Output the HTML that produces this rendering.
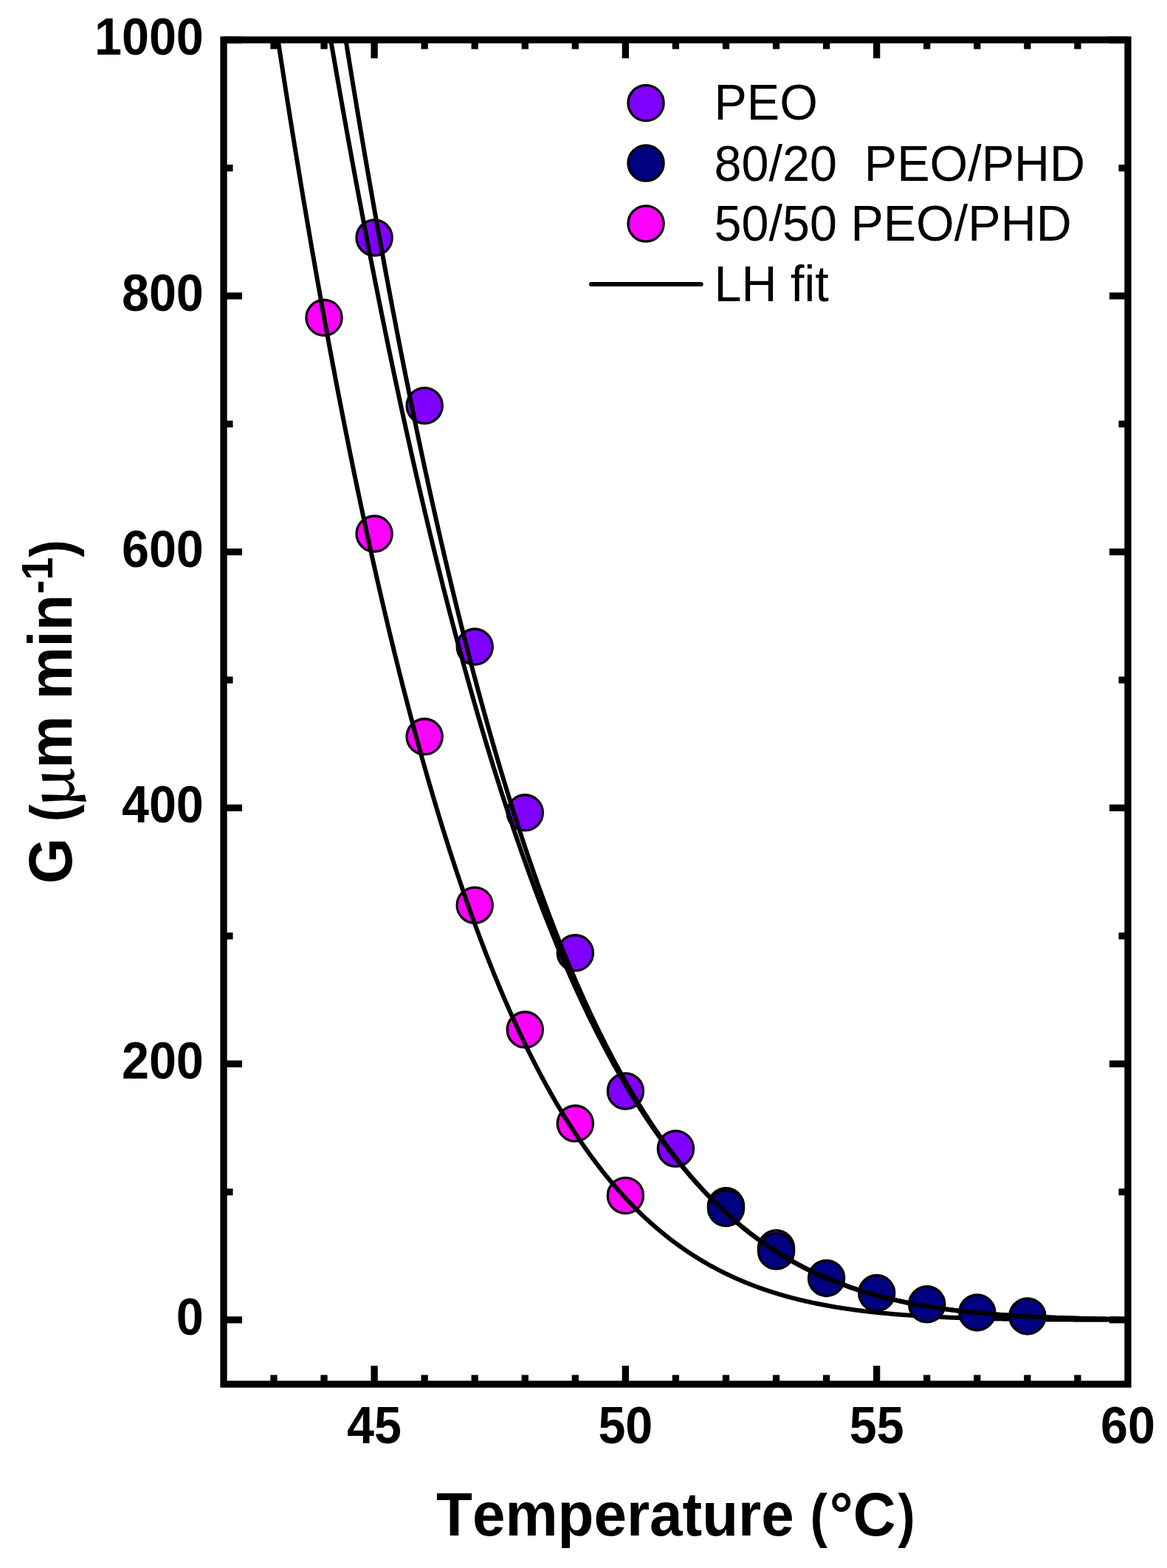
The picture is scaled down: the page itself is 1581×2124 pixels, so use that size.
<!DOCTYPE html><html><head><meta charset="utf-8"><style>html,body{margin:0;padding:0;background:#fff;overflow:hidden;}svg{display:block;}text{font-family:"Liberation Sans",Arial,sans-serif;font-kerning:none;font-variant-ligatures:none;}</style></head><body>
<svg width="1581" height="2124" viewBox="0 0 1581 2124">
<rect width="1581" height="2124" fill="#fff"/>
<defs><clipPath id="pc"><rect x="303" y="54" width="1225" height="1821"/></clipPath></defs>
<g><circle cx="439.02" cy="430.35" r="24.1" fill="#FF00FF" stroke="#000" stroke-width="3.3"/><circle cx="507.08" cy="723.10" r="24.1" fill="#FF00FF" stroke="#000" stroke-width="3.3"/><circle cx="575.14" cy="997.85" r="24.1" fill="#FF00FF" stroke="#000" stroke-width="3.3"/><circle cx="643.20" cy="1226.20" r="24.1" fill="#FF00FF" stroke="#000" stroke-width="3.3"/><circle cx="711.26" cy="1394.85" r="24.1" fill="#FF00FF" stroke="#000" stroke-width="3.3"/><circle cx="779.32" cy="1521.85" r="24.1" fill="#FF00FF" stroke="#000" stroke-width="3.3"/><circle cx="847.38" cy="1619.50" r="24.1" fill="#FF00FF" stroke="#000" stroke-width="3.3"/></g>
<path clip-path="url(#pc)" d="M371.77,22.18 L373.11,31.05 L374.45,39.90 L375.79,48.71 L377.13,57.50 L378.47,66.25 L379.81,74.97 L381.15,83.65 L382.49,92.31 L383.83,100.93 L385.17,109.53 L386.51,118.09 L387.85,126.62 L389.19,135.12 L390.53,143.59 L391.87,152.03 L393.21,160.43 L394.55,168.81 L395.89,177.16 L397.23,185.47 L398.57,193.75 L399.91,202.01 L401.25,210.23 L402.59,218.42 L403.93,226.58 L405.27,234.71 L406.61,242.81 L407.95,250.88 L409.29,258.92 L410.63,266.93 L411.97,274.91 L413.31,282.85 L414.65,290.77 L415.99,298.66 L417.33,306.52 L418.67,314.35 L420.01,322.15 L421.35,329.92 L422.69,337.65 L424.03,345.36 L425.37,353.04 L426.71,360.69 L428.05,368.31 L429.39,375.90 L430.73,383.47 L432.07,391.00 L433.41,398.50 L434.75,405.97 L436.09,413.42 L437.43,420.83 L438.77,428.22 L440.11,435.58 L441.45,442.90 L442.79,450.20 L444.13,457.47 L445.47,464.71 L446.81,471.93 L448.15,479.11 L449.49,486.27 L450.83,493.39 L452.17,500.49 L453.51,507.56 L454.85,514.60 L456.19,521.61 L457.53,528.60 L458.87,535.56 L460.21,542.48 L461.55,549.38 L462.89,556.26 L464.23,563.10 L465.57,569.92 L466.91,576.71 L468.25,583.47 L469.59,590.20 L470.93,596.91 L472.27,603.58 L473.61,610.23 L474.95,616.86 L476.29,623.45 L477.63,630.02 L478.97,636.56 L480.31,643.07 L481.65,649.56 L482.99,656.02 L484.33,662.45 L485.67,668.86 L487.01,675.23 L488.35,681.59 L489.69,687.91 L491.03,694.21 L492.37,700.48 L493.71,706.72 L495.05,712.94 L496.39,719.13 L497.73,725.30 L499.07,731.44 L500.41,737.55 L501.75,743.63 L503.09,749.69 L504.43,755.73 L505.77,761.73 L507.11,767.72 L508.45,773.67 L509.79,779.60 L511.13,785.51 L512.47,791.38 L513.81,797.24 L515.15,803.06 L516.49,808.86 L517.83,814.64 L519.17,820.39 L520.51,826.12 L521.85,831.82 L523.19,837.49 L524.53,843.14 L525.87,848.76 L527.21,854.36 L528.55,859.94 L529.89,865.49 L531.23,871.01 L532.57,876.51 L533.91,881.98 L535.25,887.44 L536.59,892.86 L537.93,898.26 L539.27,903.64 L540.61,908.99 L541.95,914.32 L543.29,919.62 L544.63,924.90 L545.97,930.16 L547.31,935.39 L548.65,940.59 L549.99,945.78 L551.33,950.94 L552.67,956.07 L554.01,961.18 L555.35,966.27 L556.69,971.34 L558.03,976.38 L559.37,981.39 L560.71,986.39 L562.05,991.36 L563.39,996.31 L564.73,1001.23 L566.07,1006.13 L567.41,1011.01 L568.75,1015.86 L570.09,1020.69 L571.43,1025.50 L572.77,1030.29 L574.11,1035.05 L575.45,1039.79 L576.79,1044.51 L578.13,1049.20 L579.47,1053.88 L580.81,1058.53 L582.15,1063.16 L583.49,1067.76 L584.83,1072.34 L586.17,1076.90 L587.51,1081.44 L588.85,1085.96 L590.19,1090.45 L591.53,1094.93 L592.87,1099.38 L594.21,1103.81 L595.55,1108.21 L596.89,1112.60 L598.23,1116.96 L599.57,1121.31 L600.91,1125.63 L602.25,1129.93 L603.59,1134.21 L604.93,1138.46 L606.27,1142.70 L607.61,1146.91 L608.95,1151.11 L610.29,1155.28 L611.63,1159.43 L612.97,1163.56 L614.31,1167.67 L615.65,1171.76 L616.99,1175.83 L618.33,1179.88 L619.67,1183.91 L621.01,1187.91 L622.35,1191.90 L623.69,1195.86 L625.03,1199.81 L626.37,1203.74 L627.71,1207.64 L629.05,1211.53 L630.39,1215.39 L631.73,1219.24 L633.07,1223.06 L634.41,1226.87 L635.75,1230.65 L637.09,1234.42 L638.43,1238.17 L639.77,1241.89 L641.11,1245.60 L642.45,1249.29 L643.79,1252.96 L645.13,1256.61 L646.47,1260.24 L647.81,1263.85 L649.15,1267.44 L650.49,1271.01 L651.83,1274.56 L653.17,1278.10 L654.51,1281.61 L655.85,1285.11 L657.19,1288.59 L658.53,1292.05 L659.87,1295.49 L661.21,1298.91 L662.55,1302.32 L663.89,1305.70 L665.23,1309.07 L666.57,1312.42 L667.91,1315.75 L669.25,1319.06 L670.59,1322.36 L671.93,1325.63 L673.27,1328.89 L674.61,1332.13 L675.95,1335.35 L677.29,1338.56 L678.63,1341.75 L679.97,1344.92 L681.31,1348.07 L682.65,1351.20 L683.99,1354.32 L685.33,1357.42 L686.67,1360.50 L688.01,1363.57 L689.35,1366.62 L690.69,1369.65 L692.03,1372.66 L693.37,1375.66 L694.71,1378.64 L696.05,1381.60 L697.39,1384.55 L698.73,1387.48 L700.07,1390.39 L701.41,1393.29 L702.75,1396.17 L704.09,1399.03 L705.43,1401.88 L706.77,1404.71 L708.11,1407.52 L709.45,1410.32 L710.79,1413.10 L712.13,1415.87 L713.47,1418.62 L714.81,1421.35 L716.15,1424.07 L717.49,1426.77 L718.83,1429.46 L720.17,1432.13 L721.51,1434.78 L722.85,1437.42 L724.19,1440.04 L725.53,1442.65 L726.87,1445.25 L728.21,1447.82 L729.55,1450.38 L730.89,1452.93 L732.23,1455.46 L733.57,1457.98 L734.91,1460.48 L736.25,1462.97 L737.59,1465.44 L738.93,1467.90 L740.27,1470.34 L741.61,1472.76 L742.95,1475.18 L744.29,1477.57 L745.63,1479.96 L746.97,1482.33 L748.31,1484.68 L749.65,1487.02 L750.99,1489.35 L752.33,1491.66 L753.67,1493.96 L755.01,1496.24 L756.35,1498.51 L757.69,1500.76 L759.03,1503.00 L760.37,1505.23 L761.71,1507.44 L763.05,1509.64 L764.39,1511.83 L765.73,1514.00 L767.07,1516.16 L768.41,1518.30 L769.75,1520.44 L771.09,1522.55 L772.43,1524.66 L773.77,1526.75 L775.11,1528.83 L776.45,1530.89 L777.79,1532.94 L779.13,1534.98 L780.47,1537.01 L781.81,1539.02 L783.15,1541.02 L784.49,1543.01 L785.83,1544.98 L787.17,1546.94 L788.51,1548.89 L789.85,1550.83 L791.19,1552.75 L792.53,1554.66 L793.87,1556.56 L795.21,1558.45 L796.55,1560.32 L797.89,1562.19 L799.23,1564.04 L800.57,1565.87 L801.91,1567.70 L803.25,1569.51 L804.59,1571.31 L805.93,1573.10 L807.27,1574.88 L808.61,1576.65 L809.95,1578.40 L811.29,1580.14 L812.63,1581.87 L813.97,1583.59 L815.31,1585.30 L816.65,1587.00 L817.99,1588.68 L819.33,1590.35 L820.67,1592.01 L822.01,1593.67 L823.35,1595.31 L824.69,1596.93 L826.03,1598.55 L827.37,1600.16 L828.71,1601.75 L830.05,1603.34 L831.39,1604.91 L832.73,1606.47 L834.07,1608.02 L835.41,1609.57 L836.75,1611.10 L838.09,1612.62 L839.43,1614.12 L840.77,1615.62 L842.11,1617.11 L843.45,1618.59 L844.79,1620.06 L846.13,1621.51 L847.47,1622.96 L848.81,1624.40 L850.15,1625.83 L851.49,1627.24 L852.83,1628.65 L854.17,1630.05 L855.51,1631.43 L856.85,1632.81 L858.19,1634.18 L859.53,1635.53 L860.87,1636.88 L862.21,1638.22 L863.55,1639.55 L864.89,1640.86 L866.23,1642.17 L867.57,1643.47 L868.91,1644.76 L870.25,1646.04 L871.59,1647.32 L872.93,1648.58 L874.27,1649.83 L875.61,1651.08 L876.95,1652.31 L878.29,1653.54 L879.63,1654.75 L880.97,1655.96 L882.31,1657.16 L883.65,1658.35 L884.99,1659.53 L886.33,1660.70 L887.67,1661.87 L889.01,1663.02 L890.35,1664.17 L891.69,1665.30 L893.03,1666.43 L894.37,1667.55 L895.71,1668.67 L897.05,1669.77 L898.39,1670.86 L899.73,1671.95 L901.07,1673.03 L902.41,1674.10 L903.75,1675.16 L905.09,1676.22 L906.43,1677.26 L907.77,1678.30 L909.11,1679.33 L910.45,1680.35 L911.79,1681.37 L913.13,1682.38 L914.47,1683.37 L915.81,1684.36 L917.15,1685.35 L918.49,1686.32 L919.83,1687.29 L921.17,1688.25 L922.51,1689.21 L923.85,1690.15 L925.19,1691.09 L926.53,1692.02 L927.87,1692.94 L929.21,1693.86 L930.55,1694.77 L931.89,1695.67 L933.23,1696.56 L934.57,1697.45 L935.91,1698.33 L937.25,1699.20 L938.59,1700.07 L939.93,1700.93 L941.27,1701.78 L942.61,1702.63 L943.95,1703.46 L945.29,1704.29 L946.63,1705.12 L947.97,1705.94 L949.31,1706.75 L950.65,1707.55 L951.99,1708.35 L953.33,1709.14 L954.67,1709.93 L956.01,1710.71 L957.35,1711.48 L958.69,1712.25 L960.03,1713.01 L961.37,1713.76 L962.71,1714.51 L964.05,1715.25 L965.39,1715.98 L966.73,1716.71 L968.07,1717.43 L969.41,1718.15 L970.75,1718.86 L972.09,1719.56 L973.43,1720.26 L974.77,1720.95 L976.11,1721.64 L977.45,1722.32 L978.79,1722.99 L980.13,1723.66 L981.47,1724.33 L982.81,1724.98 L984.15,1725.64 L985.49,1726.28 L986.83,1726.92 L988.17,1727.56 L989.51,1728.19 L990.85,1728.81 L992.19,1729.43 L993.53,1730.05 L994.87,1730.65 L996.21,1731.26 L997.55,1731.85 L998.89,1732.45 L1000.23,1733.03 L1001.57,1733.62 L1002.91,1734.19 L1004.25,1734.76 L1005.59,1735.33 L1006.93,1735.89 L1008.27,1736.45 L1009.61,1737.00 L1010.95,1737.55 L1012.29,1738.09 L1013.63,1738.63 L1014.97,1739.16 L1016.31,1739.68 L1017.65,1740.21 L1018.99,1740.72 L1020.33,1741.24 L1021.67,1741.75 L1023.01,1742.25 L1024.35,1742.75 L1025.69,1743.24 L1027.03,1743.73 L1028.37,1744.22 L1029.71,1744.70 L1031.05,1745.18 L1032.39,1745.65 L1033.73,1746.12 L1035.07,1746.58 L1036.41,1747.04 L1037.75,1747.50 L1039.09,1747.95 L1040.43,1748.39 L1041.77,1748.84 L1043.11,1749.27 L1044.45,1749.71 L1045.79,1750.14 L1047.13,1750.56 L1048.47,1750.99 L1049.81,1751.40 L1051.15,1751.82 L1052.49,1752.23 L1053.83,1752.63 L1055.17,1753.04 L1056.51,1753.43 L1057.85,1753.83 L1059.19,1754.22 L1060.53,1754.61 L1061.87,1754.99 L1063.21,1755.37 L1064.55,1755.75 L1065.89,1756.12 L1067.23,1756.49 L1068.57,1756.85 L1069.91,1757.21 L1071.25,1757.57 L1072.59,1757.92 L1073.93,1758.28 L1075.27,1758.62 L1076.61,1758.97 L1077.95,1759.31 L1079.29,1759.64 L1080.63,1759.98 L1081.97,1760.31 L1083.31,1760.64 L1084.65,1760.96 L1085.99,1761.28 L1087.33,1761.60 L1088.67,1761.91 L1090.01,1762.22 L1091.35,1762.53 L1092.69,1762.84 L1094.03,1763.14 L1095.37,1763.44 L1096.71,1763.73 L1098.05,1764.02 L1099.39,1764.31 L1100.73,1764.60 L1102.07,1764.88 L1103.41,1765.17 L1104.75,1765.44 L1106.09,1765.72 L1107.43,1765.99 L1108.77,1766.26 L1110.11,1766.53 L1111.45,1766.79 L1112.79,1767.05 L1114.13,1767.31 L1115.47,1767.56 L1116.81,1767.82 L1118.15,1768.07 L1119.49,1768.32 L1120.83,1768.56 L1122.17,1768.80 L1123.51,1769.04 L1124.85,1769.28 L1126.19,1769.51 L1127.53,1769.75 L1128.87,1769.98 L1130.21,1770.20 L1131.55,1770.43 L1132.89,1770.65 L1134.23,1770.87 L1135.57,1771.09 L1136.91,1771.30 L1138.25,1771.52 L1139.59,1771.73 L1140.93,1771.93 L1142.27,1772.14 L1143.61,1772.34 L1144.95,1772.55 L1146.29,1772.75 L1147.63,1772.94 L1148.97,1773.14 L1150.31,1773.33 L1151.65,1773.52 L1152.99,1773.71 L1154.33,1773.90 L1155.67,1774.08 L1157.01,1774.26 L1158.35,1774.44 L1159.69,1774.62 L1161.03,1774.80 L1162.37,1774.97 L1163.71,1775.14 L1165.05,1775.31 L1166.39,1775.48 L1167.73,1775.65 L1169.07,1775.81 L1170.41,1775.97 L1171.75,1776.14 L1173.09,1776.29 L1174.43,1776.45 L1175.77,1776.61 L1177.11,1776.76 L1178.45,1776.91 L1179.79,1777.06 L1181.13,1777.21 L1182.47,1777.36 L1183.81,1777.50 L1185.15,1777.64 L1186.49,1777.78 L1187.83,1777.92 L1189.17,1778.06 L1190.51,1778.20 L1191.85,1778.33 L1193.19,1778.47 L1194.53,1778.60 L1195.87,1778.73 L1197.21,1778.86 L1198.55,1778.98 L1199.89,1779.11 L1201.23,1779.23 L1202.57,1779.36 L1203.91,1779.48 L1205.25,1779.60 L1206.59,1779.71 L1207.93,1779.83 L1209.27,1779.95 L1210.61,1780.06 L1211.95,1780.17 L1213.29,1780.28 L1214.63,1780.39 L1215.97,1780.50 L1217.31,1780.61 L1218.65,1780.71 L1219.99,1780.82 L1221.33,1780.92 L1222.67,1781.02 L1224.01,1781.12 L1225.35,1781.22 L1226.69,1781.32 L1228.03,1781.42 L1229.37,1781.51 L1230.71,1781.61 L1232.05,1781.70 L1233.39,1781.79 L1234.73,1781.88 L1236.07,1781.97 L1237.41,1782.06 L1238.75,1782.15 L1240.09,1782.23 L1241.43,1782.32 L1242.77,1782.40 L1244.11,1782.49 L1245.45,1782.57 L1246.79,1782.65 L1248.13,1782.73 L1249.47,1782.81 L1250.81,1782.88 L1252.15,1782.96 L1253.49,1783.04 L1254.83,1783.11 L1256.17,1783.18 L1257.51,1783.26 L1258.85,1783.33 L1260.19,1783.40 L1261.53,1783.47 L1262.87,1783.54 L1264.21,1783.61 L1265.55,1783.67 L1266.89,1783.74 L1268.23,1783.81 L1269.57,1783.87 L1270.91,1783.93 L1272.25,1784.00 L1273.59,1784.06 L1274.93,1784.12 L1276.27,1784.18 L1277.61,1784.24 L1278.95,1784.30 L1280.29,1784.35 L1281.63,1784.41 L1282.97,1784.47 L1284.31,1784.52 L1285.65,1784.58 L1286.99,1784.63 L1288.33,1784.68 L1289.67,1784.74 L1291.01,1784.79 L1292.35,1784.84 L1293.69,1784.89 L1295.03,1784.94 L1296.37,1784.99 L1297.71,1785.04 L1299.05,1785.08 L1300.39,1785.13 L1301.73,1785.18 L1303.07,1785.22 L1304.41,1785.27 L1305.75,1785.31 L1307.09,1785.35 L1308.43,1785.40 L1309.77,1785.44 L1311.11,1785.48 L1312.45,1785.52 L1313.79,1785.56 L1315.13,1785.60 L1316.47,1785.64 L1317.81,1785.68 L1319.15,1785.72 L1320.49,1785.76 L1321.83,1785.79 L1323.17,1785.83 L1324.51,1785.87 L1325.85,1785.90 L1327.19,1785.94 L1328.53,1785.97 L1329.87,1786.01 L1331.21,1786.04 L1332.55,1786.07 L1333.89,1786.10 L1335.23,1786.14 L1336.57,1786.17 L1337.91,1786.20 L1339.25,1786.23 L1340.59,1786.26 L1341.93,1786.29 L1343.27,1786.32 L1344.61,1786.35 L1345.95,1786.37 L1347.29,1786.40 L1348.63,1786.43 L1349.97,1786.46 L1351.31,1786.48 L1352.65,1786.51 L1353.99,1786.53 L1355.33,1786.56 L1356.67,1786.58 L1358.01,1786.61 L1359.35,1786.63 L1360.69,1786.66 L1362.03,1786.68 L1363.37,1786.70 L1364.71,1786.73 L1366.05,1786.75 L1367.39,1786.77 L1368.73,1786.79 L1370.07,1786.81 L1371.41,1786.83 L1372.75,1786.85 L1374.09,1786.88 L1375.43,1786.89 L1376.77,1786.91 L1378.11,1786.93 L1379.45,1786.95 L1380.79,1786.97 L1382.13,1786.99 L1383.47,1787.01 L1384.81,1787.03 L1386.15,1787.04 L1387.49,1787.06 L1388.83,1787.08 L1390.17,1787.09 L1391.51,1787.11 L1392.85,1787.13 L1394.19,1787.14 L1395.53,1787.16 L1396.87,1787.17 L1398.21,1787.19 L1399.55,1787.20 L1400.89,1787.22 L1402.23,1787.23 L1403.57,1787.24 L1404.91,1787.26 L1406.25,1787.27 L1407.59,1787.29 L1408.93,1787.30 L1410.27,1787.31 L1411.61,1787.32 L1412.95,1787.34 L1414.29,1787.35 L1415.63,1787.36 L1416.97,1787.37 L1418.31,1787.38 L1419.65,1787.40 L1420.99,1787.41 L1422.33,1787.42 L1423.67,1787.43 L1425.01,1787.44 L1426.35,1787.45 L1427.69,1787.46 L1429.03,1787.47 L1430.37,1787.48 L1431.71,1787.49 L1433.05,1787.50 L1434.39,1787.51 L1435.73,1787.52 L1437.07,1787.53 L1438.41,1787.54 L1439.75,1787.54 L1441.09,1787.55 L1442.43,1787.56 L1443.77,1787.57 L1445.11,1787.58 L1446.45,1787.58 L1447.79,1787.59 L1449.13,1787.60 L1450.47,1787.61 L1451.81,1787.62 L1453.15,1787.62 L1454.49,1787.63 L1455.83,1787.64 L1457.17,1787.64 L1458.51,1787.65 L1459.85,1787.66 L1461.19,1787.66 L1462.53,1787.67 L1463.87,1787.68 L1465.21,1787.68 L1466.55,1787.69 L1467.89,1787.69 L1469.23,1787.70 L1470.57,1787.70 L1471.91,1787.71 L1473.25,1787.72 L1474.59,1787.72 L1475.93,1787.73 L1477.27,1787.73 L1478.61,1787.74 L1479.95,1787.74 L1481.29,1787.75 L1482.63,1787.75 L1483.97,1787.76 L1485.31,1787.76 L1486.65,1787.76 L1487.99,1787.77 L1489.33,1787.77 L1490.67,1787.78 L1492.01,1787.78 L1493.35,1787.79 L1494.69,1787.79 L1496.03,1787.79 L1497.37,1787.80 L1498.71,1787.80 L1500.05,1787.80 L1501.39,1787.81 L1502.73,1787.81 L1504.07,1787.81 L1505.41,1787.82 L1506.75,1787.82 L1508.09,1787.82 L1509.43,1787.83 L1510.77,1787.83 L1512.11,1787.83 L1513.45,1787.84 L1514.79,1787.84 L1516.13,1787.84 L1517.47,1787.84 L1518.81,1787.85 L1520.15,1787.85 L1521.49,1787.85 L1522.83,1787.86 L1524.17,1787.86 L1525.51,1787.86 L1526.85,1787.86 L1528.19,1787.86 L1529.53,1787.87 L1530.87,1787.87 L1532.21,1787.87 L1533.55,1787.87 L1534.89,1787.88 L1536.23,1787.88 L1537.57,1787.88 L1538.91,1787.88 L1540.25,1787.88 L1541.59,1787.89" fill="none" stroke="#000" stroke-width="6" stroke-linejoin="round"/>
<g><circle cx="507.08" cy="322.00" r="24.1" fill="#8000FF" stroke="#000" stroke-width="3.3"/><circle cx="575.14" cy="549.50" r="24.1" fill="#8000FF" stroke="#000" stroke-width="3.3"/><circle cx="643.20" cy="876.10" r="24.1" fill="#8000FF" stroke="#000" stroke-width="3.3"/><circle cx="711.26" cy="1100.85" r="24.1" fill="#8000FF" stroke="#000" stroke-width="3.3"/><circle cx="779.32" cy="1290.85" r="24.1" fill="#8000FF" stroke="#000" stroke-width="3.3"/><circle cx="847.38" cy="1478.00" r="24.1" fill="#8000FF" stroke="#000" stroke-width="3.3"/><circle cx="915.44" cy="1556.00" r="24.1" fill="#8000FF" stroke="#000" stroke-width="3.3"/><circle cx="983.50" cy="1633.60" r="24.1" fill="#8000FF" stroke="#000" stroke-width="3.3"/><circle cx="1051.56" cy="1690.70" r="24.1" fill="#8000FF" stroke="#000" stroke-width="3.3"/></g>
<g><circle cx="983.50" cy="1636.60" r="24.1" fill="#000080" stroke="#000" stroke-width="3.3"/><circle cx="1051.56" cy="1694.80" r="24.1" fill="#000080" stroke="#000" stroke-width="3.3"/><circle cx="1119.62" cy="1731.40" r="24.1" fill="#000080" stroke="#000" stroke-width="3.3"/><circle cx="1187.68" cy="1751.60" r="24.1" fill="#000080" stroke="#000" stroke-width="3.3"/><circle cx="1255.74" cy="1766.80" r="24.1" fill="#000080" stroke="#000" stroke-width="3.3"/><circle cx="1323.80" cy="1777.90" r="24.1" fill="#000080" stroke="#000" stroke-width="3.3"/><circle cx="1391.86" cy="1782.90" r="24.1" fill="#000080" stroke="#000" stroke-width="3.3"/></g>
<path clip-path="url(#pc)" d="M442.79,23.00 L444.13,30.88 L445.47,38.75 L446.81,46.59 L448.15,54.40 L449.49,62.20 L450.83,69.97 L452.17,77.71 L453.51,85.43 L454.85,93.13 L456.19,100.81 L457.53,108.46 L458.87,116.09 L460.21,123.69 L461.55,131.27 L462.89,138.83 L464.23,146.36 L465.57,153.87 L466.91,161.36 L468.25,168.82 L469.59,176.27 L470.93,183.68 L472.27,191.08 L473.61,198.45 L474.95,205.80 L476.29,213.12 L477.63,220.42 L478.97,227.70 L480.31,234.95 L481.65,242.19 L482.99,249.40 L484.33,256.58 L485.67,263.74 L487.01,270.88 L488.35,278.00 L489.69,285.10 L491.03,292.17 L492.37,299.21 L493.71,306.24 L495.05,313.24 L496.39,320.22 L497.73,327.18 L499.07,334.11 L500.41,341.03 L501.75,347.91 L503.09,354.78 L504.43,361.62 L505.77,368.45 L507.11,375.24 L508.45,382.02 L509.79,388.77 L511.13,395.50 L512.47,402.21 L513.81,408.90 L515.15,415.56 L516.49,422.20 L517.83,428.82 L519.17,435.42 L520.51,442.00 L521.85,448.55 L523.19,455.08 L524.53,461.59 L525.87,468.07 L527.21,474.53 L528.55,480.98 L529.89,487.40 L531.23,493.79 L532.57,500.17 L533.91,506.52 L535.25,512.85 L536.59,519.16 L537.93,525.45 L539.27,531.72 L540.61,537.96 L541.95,544.18 L543.29,550.38 L544.63,556.56 L545.97,562.72 L547.31,568.86 L548.65,574.97 L549.99,581.06 L551.33,587.13 L552.67,593.18 L554.01,599.21 L555.35,605.22 L556.69,611.20 L558.03,617.17 L559.37,623.11 L560.71,629.03 L562.05,634.93 L563.39,640.81 L564.73,646.66 L566.07,652.50 L567.41,658.31 L568.75,664.11 L570.09,669.88 L571.43,675.63 L572.77,681.36 L574.11,687.07 L575.45,692.76 L576.79,698.43 L578.13,704.08 L579.47,709.70 L580.81,715.31 L582.15,720.89 L583.49,726.46 L584.83,732.00 L586.17,737.52 L587.51,743.02 L588.85,748.51 L590.19,753.97 L591.53,759.41 L592.87,764.83 L594.21,770.23 L595.55,775.60 L596.89,780.96 L598.23,786.30 L599.57,791.62 L600.91,796.92 L602.25,802.19 L603.59,807.45 L604.93,812.69 L606.27,817.91 L607.61,823.10 L608.95,828.28 L610.29,833.44 L611.63,838.57 L612.97,843.69 L614.31,848.79 L615.65,853.86 L616.99,858.92 L618.33,863.96 L619.67,868.98 L621.01,873.98 L622.35,878.95 L623.69,883.91 L625.03,888.85 L626.37,893.77 L627.71,898.67 L629.05,903.55 L630.39,908.42 L631.73,913.26 L633.07,918.08 L634.41,922.88 L635.75,927.67 L637.09,932.43 L638.43,937.18 L639.77,941.91 L641.11,946.61 L642.45,951.30 L643.79,955.97 L645.13,960.62 L646.47,965.25 L647.81,969.87 L649.15,974.46 L650.49,979.04 L651.83,983.59 L653.17,988.13 L654.51,992.65 L655.85,997.15 L657.19,1001.63 L658.53,1006.09 L659.87,1010.54 L661.21,1014.96 L662.55,1019.37 L663.89,1023.76 L665.23,1028.13 L666.57,1032.48 L667.91,1036.81 L669.25,1041.13 L670.59,1045.43 L671.93,1049.71 L673.27,1053.97 L674.61,1058.21 L675.95,1062.44 L677.29,1066.64 L678.63,1070.83 L679.97,1075.00 L681.31,1079.16 L682.65,1083.29 L683.99,1087.41 L685.33,1091.51 L686.67,1095.59 L688.01,1099.65 L689.35,1103.70 L690.69,1107.73 L692.03,1111.74 L693.37,1115.74 L694.71,1119.71 L696.05,1123.67 L697.39,1127.61 L698.73,1131.54 L700.07,1135.44 L701.41,1139.33 L702.75,1143.21 L704.09,1147.06 L705.43,1150.90 L706.77,1154.72 L708.11,1158.53 L709.45,1162.31 L710.79,1166.08 L712.13,1169.84 L713.47,1173.57 L714.81,1177.29 L716.15,1181.00 L717.49,1184.68 L718.83,1188.35 L720.17,1192.00 L721.51,1195.64 L722.85,1199.26 L724.19,1202.86 L725.53,1206.45 L726.87,1210.02 L728.21,1213.57 L729.55,1217.11 L730.89,1220.63 L732.23,1224.14 L733.57,1227.62 L734.91,1231.10 L736.25,1234.55 L737.59,1237.99 L738.93,1241.42 L740.27,1244.83 L741.61,1248.22 L742.95,1251.59 L744.29,1254.95 L745.63,1258.30 L746.97,1261.63 L748.31,1264.94 L749.65,1268.24 L750.99,1271.52 L752.33,1274.78 L753.67,1278.04 L755.01,1281.27 L756.35,1284.49 L757.69,1287.69 L759.03,1290.88 L760.37,1294.05 L761.71,1297.21 L763.05,1300.36 L764.39,1303.48 L765.73,1306.60 L767.07,1309.69 L768.41,1312.77 L769.75,1315.84 L771.09,1318.89 L772.43,1321.93 L773.77,1324.95 L775.11,1327.96 L776.45,1330.95 L777.79,1333.93 L779.13,1336.89 L780.47,1339.84 L781.81,1342.77 L783.15,1345.69 L784.49,1348.60 L785.83,1351.49 L787.17,1354.36 L788.51,1357.22 L789.85,1360.07 L791.19,1362.90 L792.53,1365.72 L793.87,1368.52 L795.21,1371.31 L796.55,1374.09 L797.89,1376.85 L799.23,1379.60 L800.57,1382.33 L801.91,1385.05 L803.25,1387.76 L804.59,1390.45 L805.93,1393.13 L807.27,1395.79 L808.61,1398.44 L809.95,1401.08 L811.29,1403.70 L812.63,1406.31 L813.97,1408.90 L815.31,1411.48 L816.65,1414.05 L817.99,1416.61 L819.33,1419.15 L820.67,1421.68 L822.01,1424.19 L823.35,1426.69 L824.69,1429.18 L826.03,1431.66 L827.37,1434.12 L828.71,1436.57 L830.05,1439.00 L831.39,1441.43 L832.73,1443.84 L834.07,1446.23 L835.41,1448.62 L836.75,1450.99 L838.09,1453.35 L839.43,1455.69 L840.77,1458.03 L842.11,1460.35 L843.45,1462.66 L844.79,1464.95 L846.13,1467.23 L847.47,1469.50 L848.81,1471.76 L850.15,1474.01 L851.49,1476.24 L852.83,1478.46 L854.17,1480.67 L855.51,1482.87 L856.85,1485.05 L858.19,1487.22 L859.53,1489.38 L860.87,1491.53 L862.21,1493.67 L863.55,1495.79 L864.89,1497.90 L866.23,1500.00 L867.57,1502.09 L868.91,1504.17 L870.25,1506.23 L871.59,1508.28 L872.93,1510.33 L874.27,1512.36 L875.61,1514.37 L876.95,1516.38 L878.29,1518.38 L879.63,1520.36 L880.97,1522.33 L882.31,1524.29 L883.65,1526.24 L884.99,1528.18 L886.33,1530.11 L887.67,1532.03 L889.01,1533.93 L890.35,1535.82 L891.69,1537.71 L893.03,1539.58 L894.37,1541.44 L895.71,1543.29 L897.05,1545.13 L898.39,1546.96 L899.73,1548.78 L901.07,1550.58 L902.41,1552.38 L903.75,1554.16 L905.09,1555.94 L906.43,1557.70 L907.77,1559.46 L909.11,1561.20 L910.45,1562.93 L911.79,1564.66 L913.13,1566.37 L914.47,1568.07 L915.81,1569.76 L917.15,1571.44 L918.49,1573.11 L919.83,1574.77 L921.17,1576.42 L922.51,1578.07 L923.85,1579.70 L925.19,1581.32 L926.53,1582.93 L927.87,1584.53 L929.21,1586.12 L930.55,1587.70 L931.89,1589.27 L933.23,1590.83 L934.57,1592.39 L935.91,1593.93 L937.25,1595.46 L938.59,1596.98 L939.93,1598.50 L941.27,1600.00 L942.61,1601.50 L943.95,1602.98 L945.29,1604.46 L946.63,1605.92 L947.97,1607.38 L949.31,1608.83 L950.65,1610.27 L951.99,1611.70 L953.33,1613.12 L954.67,1614.53 L956.01,1615.93 L957.35,1617.32 L958.69,1618.71 L960.03,1620.08 L961.37,1621.45 L962.71,1622.81 L964.05,1624.16 L965.39,1625.50 L966.73,1626.83 L968.07,1628.15 L969.41,1629.46 L970.75,1630.77 L972.09,1632.07 L973.43,1633.35 L974.77,1634.63 L976.11,1635.91 L977.45,1637.17 L978.79,1638.42 L980.13,1639.67 L981.47,1640.91 L982.81,1642.14 L984.15,1643.36 L985.49,1644.57 L986.83,1645.78 L988.17,1646.97 L989.51,1648.16 L990.85,1649.34 L992.19,1650.52 L993.53,1651.68 L994.87,1652.84 L996.21,1653.99 L997.55,1655.13 L998.89,1656.26 L1000.23,1657.39 L1001.57,1658.51 L1002.91,1659.62 L1004.25,1660.72 L1005.59,1661.82 L1006.93,1662.90 L1008.27,1663.98 L1009.61,1665.06 L1010.95,1666.12 L1012.29,1667.18 L1013.63,1668.23 L1014.97,1669.27 L1016.31,1670.31 L1017.65,1671.34 L1018.99,1672.36 L1020.33,1673.37 L1021.67,1674.38 L1023.01,1675.38 L1024.35,1676.37 L1025.69,1677.36 L1027.03,1678.33 L1028.37,1679.31 L1029.71,1680.27 L1031.05,1681.23 L1032.39,1682.18 L1033.73,1683.12 L1035.07,1684.06 L1036.41,1684.99 L1037.75,1685.91 L1039.09,1686.83 L1040.43,1687.74 L1041.77,1688.65 L1043.11,1689.54 L1044.45,1690.43 L1045.79,1691.32 L1047.13,1692.19 L1048.47,1693.07 L1049.81,1693.93 L1051.15,1694.79 L1052.49,1695.64 L1053.83,1696.49 L1055.17,1697.32 L1056.51,1698.16 L1057.85,1698.98 L1059.19,1699.81 L1060.53,1700.62 L1061.87,1701.43 L1063.21,1702.23 L1064.55,1703.03 L1065.89,1703.82 L1067.23,1704.60 L1068.57,1705.38 L1069.91,1706.15 L1071.25,1706.92 L1072.59,1707.68 L1073.93,1708.43 L1075.27,1709.18 L1076.61,1709.93 L1077.95,1710.66 L1079.29,1711.40 L1080.63,1712.12 L1081.97,1712.84 L1083.31,1713.56 L1084.65,1714.27 L1085.99,1714.97 L1087.33,1715.67 L1088.67,1716.36 L1090.01,1717.05 L1091.35,1717.73 L1092.69,1718.41 L1094.03,1719.08 L1095.37,1719.75 L1096.71,1720.41 L1098.05,1721.06 L1099.39,1721.71 L1100.73,1722.36 L1102.07,1723.00 L1103.41,1723.63 L1104.75,1724.26 L1106.09,1724.89 L1107.43,1725.51 L1108.77,1726.12 L1110.11,1726.73 L1111.45,1727.34 L1112.79,1727.94 L1114.13,1728.53 L1115.47,1729.12 L1116.81,1729.71 L1118.15,1730.29 L1119.49,1730.87 L1120.83,1731.44 L1122.17,1732.00 L1123.51,1732.57 L1124.85,1733.12 L1126.19,1733.68 L1127.53,1734.22 L1128.87,1734.77 L1130.21,1735.31 L1131.55,1735.84 L1132.89,1736.37 L1134.23,1736.90 L1135.57,1737.42 L1136.91,1737.93 L1138.25,1738.45 L1139.59,1738.96 L1140.93,1739.46 L1142.27,1739.96 L1143.61,1740.45 L1144.95,1740.94 L1146.29,1741.43 L1147.63,1741.91 L1148.97,1742.39 L1150.31,1742.87 L1151.65,1743.34 L1152.99,1743.80 L1154.33,1744.27 L1155.67,1744.72 L1157.01,1745.18 L1158.35,1745.63 L1159.69,1746.08 L1161.03,1746.52 L1162.37,1746.96 L1163.71,1747.39 L1165.05,1747.82 L1166.39,1748.25 L1167.73,1748.67 L1169.07,1749.09 L1170.41,1749.51 L1171.75,1749.92 L1173.09,1750.33 L1174.43,1750.73 L1175.77,1751.14 L1177.11,1751.53 L1178.45,1751.93 L1179.79,1752.32 L1181.13,1752.70 L1182.47,1753.09 L1183.81,1753.47 L1185.15,1753.85 L1186.49,1754.22 L1187.83,1754.59 L1189.17,1754.95 L1190.51,1755.32 L1191.85,1755.68 L1193.19,1756.03 L1194.53,1756.39 L1195.87,1756.74 L1197.21,1757.08 L1198.55,1757.43 L1199.89,1757.77 L1201.23,1758.11 L1202.57,1758.44 L1203.91,1758.77 L1205.25,1759.10 L1206.59,1759.42 L1207.93,1759.74 L1209.27,1760.06 L1210.61,1760.38 L1211.95,1760.69 L1213.29,1761.00 L1214.63,1761.31 L1215.97,1761.61 L1217.31,1761.91 L1218.65,1762.21 L1219.99,1762.51 L1221.33,1762.80 L1222.67,1763.09 L1224.01,1763.37 L1225.35,1763.66 L1226.69,1763.94 L1228.03,1764.22 L1229.37,1764.49 L1230.71,1764.77 L1232.05,1765.04 L1233.39,1765.31 L1234.73,1765.57 L1236.07,1765.83 L1237.41,1766.09 L1238.75,1766.35 L1240.09,1766.61 L1241.43,1766.86 L1242.77,1767.11 L1244.11,1767.35 L1245.45,1767.60 L1246.79,1767.84 L1248.13,1768.08 L1249.47,1768.32 L1250.81,1768.55 L1252.15,1768.79 L1253.49,1769.02 L1254.83,1769.25 L1256.17,1769.47 L1257.51,1769.70 L1258.85,1769.92 L1260.19,1770.14 L1261.53,1770.35 L1262.87,1770.57 L1264.21,1770.78 L1265.55,1770.99 L1266.89,1771.20 L1268.23,1771.40 L1269.57,1771.61 L1270.91,1771.81 L1272.25,1772.01 L1273.59,1772.21 L1274.93,1772.40 L1276.27,1772.59 L1277.61,1772.79 L1278.95,1772.98 L1280.29,1773.16 L1281.63,1773.35 L1282.97,1773.53 L1284.31,1773.71 L1285.65,1773.89 L1286.99,1774.07 L1288.33,1774.24 L1289.67,1774.42 L1291.01,1774.59 L1292.35,1774.76 L1293.69,1774.93 L1295.03,1775.10 L1296.37,1775.26 L1297.71,1775.42 L1299.05,1775.58 L1300.39,1775.74 L1301.73,1775.90 L1303.07,1776.06 L1304.41,1776.21 L1305.75,1776.36 L1307.09,1776.51 L1308.43,1776.66 L1309.77,1776.81 L1311.11,1776.96 L1312.45,1777.10 L1313.79,1777.24 L1315.13,1777.38 L1316.47,1777.52 L1317.81,1777.66 L1319.15,1777.80 L1320.49,1777.93 L1321.83,1778.06 L1323.17,1778.20 L1324.51,1778.33 L1325.85,1778.46 L1327.19,1778.58 L1328.53,1778.71 L1329.87,1778.83 L1331.21,1778.96 L1332.55,1779.08 L1333.89,1779.20 L1335.23,1779.32 L1336.57,1779.43 L1337.91,1779.55 L1339.25,1779.66 L1340.59,1779.78 L1341.93,1779.89 L1343.27,1780.00 L1344.61,1780.11 L1345.95,1780.22 L1347.29,1780.32 L1348.63,1780.43 L1349.97,1780.53 L1351.31,1780.64 L1352.65,1780.74 L1353.99,1780.84 L1355.33,1780.94 L1356.67,1781.04 L1358.01,1781.13 L1359.35,1781.23 L1360.69,1781.33 L1362.03,1781.42 L1363.37,1781.51 L1364.71,1781.60 L1366.05,1781.69 L1367.39,1781.78 L1368.73,1781.87 L1370.07,1781.96 L1371.41,1782.04 L1372.75,1782.13 L1374.09,1782.21 L1375.43,1782.29 L1376.77,1782.38 L1378.11,1782.46 L1379.45,1782.54 L1380.79,1782.62 L1382.13,1782.69 L1383.47,1782.77 L1384.81,1782.85 L1386.15,1782.92 L1387.49,1783.00 L1388.83,1783.07 L1390.17,1783.14 L1391.51,1783.21 L1392.85,1783.28 L1394.19,1783.35 L1395.53,1783.42 L1396.87,1783.49 L1398.21,1783.55 L1399.55,1783.62 L1400.89,1783.68 L1402.23,1783.75 L1403.57,1783.81 L1404.91,1783.87 L1406.25,1783.94 L1407.59,1784.00 L1408.93,1784.06 L1410.27,1784.12 L1411.61,1784.18 L1412.95,1784.23 L1414.29,1784.29 L1415.63,1784.35 L1416.97,1784.40 L1418.31,1784.46 L1419.65,1784.51 L1420.99,1784.56 L1422.33,1784.62 L1423.67,1784.67 L1425.01,1784.72 L1426.35,1784.77 L1427.69,1784.82 L1429.03,1784.87 L1430.37,1784.92 L1431.71,1784.97 L1433.05,1785.01 L1434.39,1785.06 L1435.73,1785.11 L1437.07,1785.15 L1438.41,1785.20 L1439.75,1785.24 L1441.09,1785.28 L1442.43,1785.33 L1443.77,1785.37 L1445.11,1785.41 L1446.45,1785.45 L1447.79,1785.49 L1449.13,1785.53 L1450.47,1785.57 L1451.81,1785.61 L1453.15,1785.65 L1454.49,1785.69 L1455.83,1785.72 L1457.17,1785.76 L1458.51,1785.80 L1459.85,1785.83 L1461.19,1785.87 L1462.53,1785.90 L1463.87,1785.93 L1465.21,1785.97 L1466.55,1786.00 L1467.89,1786.03 L1469.23,1786.07 L1470.57,1786.10 L1471.91,1786.13 L1473.25,1786.16 L1474.59,1786.19 L1475.93,1786.22 L1477.27,1786.25 L1478.61,1786.28 L1479.95,1786.31 L1481.29,1786.34 L1482.63,1786.36 L1483.97,1786.39 L1485.31,1786.42 L1486.65,1786.44 L1487.99,1786.47 L1489.33,1786.50 L1490.67,1786.52 L1492.01,1786.55 L1493.35,1786.57 L1494.69,1786.59 L1496.03,1786.62 L1497.37,1786.64 L1498.71,1786.67 L1500.05,1786.69 L1501.39,1786.71 L1502.73,1786.73 L1504.07,1786.75 L1505.41,1786.78 L1506.75,1786.80 L1508.09,1786.82 L1509.43,1786.84 L1510.77,1786.86 L1512.11,1786.88 L1513.45,1786.90 L1514.79,1786.92 L1516.13,1786.94 L1517.47,1786.95 L1518.81,1786.97 L1520.15,1786.99 L1521.49,1787.01 L1522.83,1787.02 L1524.17,1787.04 L1525.51,1787.06 L1526.85,1787.08 L1528.19,1787.09 L1529.53,1787.11 L1530.87,1787.12 L1532.21,1787.14 L1533.55,1787.15 L1534.89,1787.17 L1536.23,1787.18 L1537.57,1787.20 L1538.91,1787.21 L1540.25,1787.23 L1541.59,1787.24" fill="none" stroke="#000" stroke-width="6" stroke-linejoin="round"/>
<path clip-path="url(#pc)" d="M464.23,27.55 L465.57,35.98 L466.91,44.37 L468.25,52.74 L469.59,61.08 L470.93,69.40 L472.27,77.68 L473.61,85.93 L474.95,94.16 L476.29,102.36 L477.63,110.53 L478.97,118.67 L480.31,126.79 L481.65,134.87 L482.99,142.93 L484.33,150.96 L485.67,158.96 L487.01,166.94 L488.35,174.88 L489.69,182.80 L491.03,190.69 L492.37,198.56 L493.71,206.39 L495.05,214.20 L496.39,221.98 L497.73,229.73 L499.07,237.46 L500.41,245.15 L501.75,252.82 L503.09,260.46 L504.43,268.08 L505.77,275.67 L507.11,283.23 L508.45,290.76 L509.79,298.27 L511.13,305.75 L512.47,313.20 L513.81,320.63 L515.15,328.02 L516.49,335.39 L517.83,342.74 L519.17,350.06 L520.51,357.35 L521.85,364.61 L523.19,371.85 L524.53,379.06 L525.87,386.24 L527.21,393.40 L528.55,400.53 L529.89,407.64 L531.23,414.72 L532.57,421.77 L533.91,428.80 L535.25,435.80 L536.59,442.77 L537.93,449.72 L539.27,456.64 L540.61,463.53 L541.95,470.40 L543.29,477.25 L544.63,484.06 L545.97,490.85 L547.31,497.62 L548.65,504.36 L549.99,511.08 L551.33,517.76 L552.67,524.43 L554.01,531.06 L555.35,537.68 L556.69,544.26 L558.03,550.83 L559.37,557.36 L560.71,563.87 L562.05,570.36 L563.39,576.82 L564.73,583.25 L566.07,589.66 L567.41,596.05 L568.75,602.41 L570.09,608.74 L571.43,615.05 L572.77,621.34 L574.11,627.60 L575.45,633.84 L576.79,640.05 L578.13,646.24 L579.47,652.40 L580.81,658.54 L582.15,664.65 L583.49,670.74 L584.83,676.80 L586.17,682.84 L587.51,688.86 L588.85,694.85 L590.19,700.82 L591.53,706.76 L592.87,712.68 L594.21,718.58 L595.55,724.45 L596.89,730.30 L598.23,736.12 L599.57,741.92 L600.91,747.70 L602.25,753.45 L603.59,759.18 L604.93,764.89 L606.27,770.57 L607.61,776.23 L608.95,781.86 L610.29,787.47 L611.63,793.06 L612.97,798.63 L614.31,804.17 L615.65,809.69 L616.99,815.19 L618.33,820.66 L619.67,826.11 L621.01,831.54 L622.35,836.94 L623.69,842.32 L625.03,847.68 L626.37,853.02 L627.71,858.33 L629.05,863.62 L630.39,868.89 L631.73,874.14 L633.07,879.36 L634.41,884.56 L635.75,889.74 L637.09,894.90 L638.43,900.03 L639.77,905.15 L641.11,910.24 L642.45,915.30 L643.79,920.35 L645.13,925.38 L646.47,930.38 L647.81,935.36 L649.15,940.32 L650.49,945.26 L651.83,950.17 L653.17,955.06 L654.51,959.94 L655.85,964.79 L657.19,969.62 L658.53,974.43 L659.87,979.21 L661.21,983.98 L662.55,988.72 L663.89,993.45 L665.23,998.15 L666.57,1002.83 L667.91,1007.49 L669.25,1012.13 L670.59,1016.75 L671.93,1021.35 L673.27,1025.92 L674.61,1030.48 L675.95,1035.02 L677.29,1039.53 L678.63,1044.03 L679.97,1048.50 L681.31,1052.95 L682.65,1057.39 L683.99,1061.80 L685.33,1066.19 L686.67,1070.56 L688.01,1074.92 L689.35,1079.25 L690.69,1083.56 L692.03,1087.85 L693.37,1092.13 L694.71,1096.38 L696.05,1100.61 L697.39,1104.83 L698.73,1109.02 L700.07,1113.19 L701.41,1117.35 L702.75,1121.48 L704.09,1125.60 L705.43,1129.69 L706.77,1133.77 L708.11,1137.83 L709.45,1141.86 L710.79,1145.88 L712.13,1149.88 L713.47,1153.86 L714.81,1157.82 L716.15,1161.77 L717.49,1165.69 L718.83,1169.60 L720.17,1173.48 L721.51,1177.35 L722.85,1181.20 L724.19,1185.03 L725.53,1188.84 L726.87,1192.63 L728.21,1196.41 L729.55,1200.16 L730.89,1203.90 L732.23,1207.62 L733.57,1211.32 L734.91,1215.00 L736.25,1218.67 L737.59,1222.32 L738.93,1225.95 L740.27,1229.56 L741.61,1233.15 L742.95,1236.73 L744.29,1240.28 L745.63,1243.82 L746.97,1247.35 L748.31,1250.85 L749.65,1254.34 L750.99,1257.81 L752.33,1261.26 L753.67,1264.69 L755.01,1268.11 L756.35,1271.51 L757.69,1274.89 L759.03,1278.26 L760.37,1281.61 L761.71,1284.94 L763.05,1288.26 L764.39,1291.55 L765.73,1294.83 L767.07,1298.10 L768.41,1301.35 L769.75,1304.58 L771.09,1307.79 L772.43,1310.99 L773.77,1314.17 L775.11,1317.33 L776.45,1320.48 L777.79,1323.61 L779.13,1326.73 L780.47,1329.83 L781.81,1332.91 L783.15,1335.97 L784.49,1339.03 L785.83,1342.06 L787.17,1345.08 L788.51,1348.08 L789.85,1351.07 L791.19,1354.04 L792.53,1356.99 L793.87,1359.93 L795.21,1362.86 L796.55,1365.76 L797.89,1368.66 L799.23,1371.53 L800.57,1374.40 L801.91,1377.24 L803.25,1380.07 L804.59,1382.89 L805.93,1385.69 L807.27,1388.47 L808.61,1391.24 L809.95,1394.00 L811.29,1396.74 L812.63,1399.46 L813.97,1402.17 L815.31,1404.87 L816.65,1407.55 L817.99,1410.22 L819.33,1412.87 L820.67,1415.50 L822.01,1418.13 L823.35,1420.73 L824.69,1423.33 L826.03,1425.91 L827.37,1428.47 L828.71,1431.02 L830.05,1433.56 L831.39,1436.08 L832.73,1438.58 L834.07,1441.08 L835.41,1443.56 L836.75,1446.02 L838.09,1448.47 L839.43,1450.91 L840.77,1453.34 L842.11,1455.75 L843.45,1458.14 L844.79,1460.53 L846.13,1462.89 L847.47,1465.25 L848.81,1467.59 L850.15,1469.92 L851.49,1472.24 L852.83,1474.54 L854.17,1476.83 L855.51,1479.10 L856.85,1481.36 L858.19,1483.61 L859.53,1485.85 L860.87,1488.07 L862.21,1490.28 L863.55,1492.48 L864.89,1494.66 L866.23,1496.83 L867.57,1498.99 L868.91,1501.14 L870.25,1503.27 L871.59,1505.39 L872.93,1507.50 L874.27,1509.60 L875.61,1511.68 L876.95,1513.75 L878.29,1515.81 L879.63,1517.85 L880.97,1519.89 L882.31,1521.91 L883.65,1523.92 L884.99,1525.92 L886.33,1527.90 L887.67,1529.88 L889.01,1531.84 L890.35,1533.79 L891.69,1535.72 L893.03,1537.65 L894.37,1539.56 L895.71,1541.47 L897.05,1543.36 L898.39,1545.24 L899.73,1547.11 L901.07,1548.96 L902.41,1550.81 L903.75,1552.64 L905.09,1554.46 L906.43,1556.27 L907.77,1558.07 L909.11,1559.86 L910.45,1561.64 L911.79,1563.40 L913.13,1565.16 L914.47,1566.90 L915.81,1568.64 L917.15,1570.36 L918.49,1572.07 L919.83,1573.77 L921.17,1575.46 L922.51,1577.14 L923.85,1578.81 L925.19,1580.46 L926.53,1582.11 L927.87,1583.75 L929.21,1585.37 L930.55,1586.99 L931.89,1588.60 L933.23,1590.19 L934.57,1591.78 L935.91,1593.35 L937.25,1594.92 L938.59,1596.47 L939.93,1598.01 L941.27,1599.55 L942.61,1601.07 L943.95,1602.59 L945.29,1604.09 L946.63,1605.59 L947.97,1607.07 L949.31,1608.54 L950.65,1610.01 L951.99,1611.47 L953.33,1612.91 L954.67,1614.35 L956.01,1615.77 L957.35,1617.19 L958.69,1618.60 L960.03,1620.00 L961.37,1621.39 L962.71,1622.77 L964.05,1624.14 L965.39,1625.50 L966.73,1626.85 L968.07,1628.20 L969.41,1629.53 L970.75,1630.85 L972.09,1632.17 L973.43,1633.48 L974.77,1634.78 L976.11,1636.06 L977.45,1637.35 L978.79,1638.62 L980.13,1639.88 L981.47,1641.13 L982.81,1642.38 L984.15,1643.62 L985.49,1644.85 L986.83,1646.07 L988.17,1647.28 L989.51,1648.48 L990.85,1649.68 L992.19,1650.86 L993.53,1652.04 L994.87,1653.21 L996.21,1654.37 L997.55,1655.53 L998.89,1656.67 L1000.23,1657.81 L1001.57,1658.94 L1002.91,1660.06 L1004.25,1661.17 L1005.59,1662.28 L1006.93,1663.38 L1008.27,1664.46 L1009.61,1665.55 L1010.95,1666.62 L1012.29,1667.69 L1013.63,1668.75 L1014.97,1669.80 L1016.31,1670.84 L1017.65,1671.88 L1018.99,1672.91 L1020.33,1673.93 L1021.67,1674.94 L1023.01,1675.95 L1024.35,1676.95 L1025.69,1677.94 L1027.03,1678.92 L1028.37,1679.90 L1029.71,1680.87 L1031.05,1681.83 L1032.39,1682.79 L1033.73,1683.74 L1035.07,1684.68 L1036.41,1685.61 L1037.75,1686.54 L1039.09,1687.46 L1040.43,1688.38 L1041.77,1689.28 L1043.11,1690.18 L1044.45,1691.08 L1045.79,1691.96 L1047.13,1692.84 L1048.47,1693.72 L1049.81,1694.59 L1051.15,1695.45 L1052.49,1696.30 L1053.83,1697.15 L1055.17,1697.99 L1056.51,1698.82 L1057.85,1699.65 L1059.19,1700.47 L1060.53,1701.29 L1061.87,1702.10 L1063.21,1702.90 L1064.55,1703.70 L1065.89,1704.49 L1067.23,1705.27 L1068.57,1706.05 L1069.91,1706.82 L1071.25,1707.59 L1072.59,1708.35 L1073.93,1709.10 L1075.27,1709.85 L1076.61,1710.60 L1077.95,1711.33 L1079.29,1712.06 L1080.63,1712.79 L1081.97,1713.51 L1083.31,1714.22 L1084.65,1714.93 L1085.99,1715.63 L1087.33,1716.33 L1088.67,1717.02 L1090.01,1717.71 L1091.35,1718.39 L1092.69,1719.06 L1094.03,1719.73 L1095.37,1720.40 L1096.71,1721.05 L1098.05,1721.71 L1099.39,1722.36 L1100.73,1723.00 L1102.07,1723.64 L1103.41,1724.27 L1104.75,1724.90 L1106.09,1725.52 L1107.43,1726.13 L1108.77,1726.75 L1110.11,1727.35 L1111.45,1727.95 L1112.79,1728.55 L1114.13,1729.14 L1115.47,1729.73 L1116.81,1730.31 L1118.15,1730.89 L1119.49,1731.46 L1120.83,1732.03 L1122.17,1732.59 L1123.51,1733.15 L1124.85,1733.70 L1126.19,1734.25 L1127.53,1734.80 L1128.87,1735.34 L1130.21,1735.87 L1131.55,1736.40 L1132.89,1736.93 L1134.23,1737.45 L1135.57,1737.97 L1136.91,1738.48 L1138.25,1738.99 L1139.59,1739.49 L1140.93,1739.99 L1142.27,1740.49 L1143.61,1740.98 L1144.95,1741.46 L1146.29,1741.95 L1147.63,1742.43 L1148.97,1742.90 L1150.31,1743.37 L1151.65,1743.84 L1152.99,1744.30 L1154.33,1744.76 L1155.67,1745.21 L1157.01,1745.66 L1158.35,1746.10 L1159.69,1746.55 L1161.03,1746.98 L1162.37,1747.42 L1163.71,1747.85 L1165.05,1748.28 L1166.39,1748.70 L1167.73,1749.12 L1169.07,1749.53 L1170.41,1749.94 L1171.75,1750.35 L1173.09,1750.75 L1174.43,1751.15 L1175.77,1751.55 L1177.11,1751.94 L1178.45,1752.33 L1179.79,1752.72 L1181.13,1753.10 L1182.47,1753.48 L1183.81,1753.86 L1185.15,1754.23 L1186.49,1754.60 L1187.83,1754.96 L1189.17,1755.32 L1190.51,1755.68 L1191.85,1756.04 L1193.19,1756.39 L1194.53,1756.74 L1195.87,1757.08 L1197.21,1757.43 L1198.55,1757.77 L1199.89,1758.10 L1201.23,1758.43 L1202.57,1758.76 L1203.91,1759.09 L1205.25,1759.41 L1206.59,1759.73 L1207.93,1760.05 L1209.27,1760.36 L1210.61,1760.68 L1211.95,1760.98 L1213.29,1761.29 L1214.63,1761.59 L1215.97,1761.89 L1217.31,1762.19 L1218.65,1762.48 L1219.99,1762.77 L1221.33,1763.06 L1222.67,1763.35 L1224.01,1763.63 L1225.35,1763.91 L1226.69,1764.19 L1228.03,1764.46 L1229.37,1764.73 L1230.71,1765.00 L1232.05,1765.27 L1233.39,1765.53 L1234.73,1765.79 L1236.07,1766.05 L1237.41,1766.31 L1238.75,1766.56 L1240.09,1766.81 L1241.43,1767.06 L1242.77,1767.31 L1244.11,1767.55 L1245.45,1767.79 L1246.79,1768.03 L1248.13,1768.26 L1249.47,1768.50 L1250.81,1768.73 L1252.15,1768.96 L1253.49,1769.19 L1254.83,1769.41 L1256.17,1769.63 L1257.51,1769.85 L1258.85,1770.07 L1260.19,1770.29 L1261.53,1770.50 L1262.87,1770.71 L1264.21,1770.92 L1265.55,1771.13 L1266.89,1771.33 L1268.23,1771.53 L1269.57,1771.73 L1270.91,1771.93 L1272.25,1772.13 L1273.59,1772.32 L1274.93,1772.51 L1276.27,1772.70 L1277.61,1772.89 L1278.95,1773.08 L1280.29,1773.26 L1281.63,1773.45 L1282.97,1773.63 L1284.31,1773.80 L1285.65,1773.98 L1286.99,1774.16 L1288.33,1774.33 L1289.67,1774.50 L1291.01,1774.67 L1292.35,1774.84 L1293.69,1775.00 L1295.03,1775.16 L1296.37,1775.33 L1297.71,1775.49 L1299.05,1775.64 L1300.39,1775.80 L1301.73,1775.96 L1303.07,1776.11 L1304.41,1776.26 L1305.75,1776.41 L1307.09,1776.56 L1308.43,1776.71 L1309.77,1776.85 L1311.11,1776.99 L1312.45,1777.14 L1313.79,1777.28 L1315.13,1777.42 L1316.47,1777.55 L1317.81,1777.69 L1319.15,1777.82 L1320.49,1777.95 L1321.83,1778.09 L1323.17,1778.22 L1324.51,1778.34 L1325.85,1778.47 L1327.19,1778.60 L1328.53,1778.72 L1329.87,1778.84 L1331.21,1778.96 L1332.55,1779.08 L1333.89,1779.20 L1335.23,1779.32 L1336.57,1779.43 L1337.91,1779.55 L1339.25,1779.66 L1340.59,1779.77 L1341.93,1779.88 L1343.27,1779.99 L1344.61,1780.10 L1345.95,1780.21 L1347.29,1780.31 L1348.63,1780.42 L1349.97,1780.52 L1351.31,1780.62 L1352.65,1780.72 L1353.99,1780.82 L1355.33,1780.92 L1356.67,1781.01 L1358.01,1781.11 L1359.35,1781.21 L1360.69,1781.30 L1362.03,1781.39 L1363.37,1781.48 L1364.71,1781.57 L1366.05,1781.66 L1367.39,1781.75 L1368.73,1781.84 L1370.07,1781.92 L1371.41,1782.01 L1372.75,1782.09 L1374.09,1782.17 L1375.43,1782.26 L1376.77,1782.34 L1378.11,1782.42 L1379.45,1782.49 L1380.79,1782.57 L1382.13,1782.65 L1383.47,1782.73 L1384.81,1782.80 L1386.15,1782.87 L1387.49,1782.95 L1388.83,1783.02 L1390.17,1783.09 L1391.51,1783.16 L1392.85,1783.23 L1394.19,1783.30 L1395.53,1783.37 L1396.87,1783.43 L1398.21,1783.50 L1399.55,1783.57 L1400.89,1783.63 L1402.23,1783.69 L1403.57,1783.76 L1404.91,1783.82 L1406.25,1783.88 L1407.59,1783.94 L1408.93,1784.00 L1410.27,1784.06 L1411.61,1784.12 L1412.95,1784.17 L1414.29,1784.23 L1415.63,1784.29 L1416.97,1784.34 L1418.31,1784.40 L1419.65,1784.45 L1420.99,1784.50 L1422.33,1784.56 L1423.67,1784.61 L1425.01,1784.66 L1426.35,1784.71 L1427.69,1784.76 L1429.03,1784.81 L1430.37,1784.85 L1431.71,1784.90 L1433.05,1784.95 L1434.39,1785.00 L1435.73,1785.04 L1437.07,1785.09 L1438.41,1785.13 L1439.75,1785.17 L1441.09,1785.22 L1442.43,1785.26 L1443.77,1785.30 L1445.11,1785.34 L1446.45,1785.39 L1447.79,1785.43 L1449.13,1785.47 L1450.47,1785.51 L1451.81,1785.54 L1453.15,1785.58 L1454.49,1785.62 L1455.83,1785.66 L1457.17,1785.69 L1458.51,1785.73 L1459.85,1785.77 L1461.19,1785.80 L1462.53,1785.84 L1463.87,1785.87 L1465.21,1785.90 L1466.55,1785.94 L1467.89,1785.97 L1469.23,1786.00 L1470.57,1786.03 L1471.91,1786.06 L1473.25,1786.10 L1474.59,1786.13 L1475.93,1786.16 L1477.27,1786.19 L1478.61,1786.22 L1479.95,1786.24 L1481.29,1786.27 L1482.63,1786.30 L1483.97,1786.33 L1485.31,1786.35 L1486.65,1786.38 L1487.99,1786.41 L1489.33,1786.43 L1490.67,1786.46 L1492.01,1786.48 L1493.35,1786.51 L1494.69,1786.53 L1496.03,1786.56 L1497.37,1786.58 L1498.71,1786.61 L1500.05,1786.63 L1501.39,1786.65 L1502.73,1786.67 L1504.07,1786.70 L1505.41,1786.72 L1506.75,1786.74 L1508.09,1786.76 L1509.43,1786.78 L1510.77,1786.80 L1512.11,1786.82 L1513.45,1786.84 L1514.79,1786.86 L1516.13,1786.88 L1517.47,1786.90 L1518.81,1786.92 L1520.15,1786.93 L1521.49,1786.95 L1522.83,1786.97 L1524.17,1786.99 L1525.51,1787.01 L1526.85,1787.02 L1528.19,1787.04 L1529.53,1787.06 L1530.87,1787.07 L1532.21,1787.09 L1533.55,1787.10 L1534.89,1787.12 L1536.23,1787.13 L1537.57,1787.15 L1538.91,1787.16 L1540.25,1787.18 L1541.59,1787.19" fill="none" stroke="#000" stroke-width="6" stroke-linejoin="round"/>
<path d="M370.96,1875 V1862.50 M370.96,54 V66.50 M439.02,1875 V1862.50 M439.02,54 V66.50 M507.08,1875 V1850.00 M507.08,54 V79.00 M575.14,1875 V1862.50 M575.14,54 V66.50 M643.20,1875 V1862.50 M643.20,54 V66.50 M711.26,1875 V1862.50 M711.26,54 V66.50 M779.32,1875 V1862.50 M779.32,54 V66.50 M847.38,1875 V1850.00 M847.38,54 V79.00 M915.44,1875 V1862.50 M915.44,54 V66.50 M983.50,1875 V1862.50 M983.50,54 V66.50 M1051.56,1875 V1862.50 M1051.56,54 V66.50 M1119.62,1875 V1862.50 M1119.62,54 V66.50 M1187.68,1875 V1850.00 M1187.68,54 V79.00 M1255.74,1875 V1862.50 M1255.74,54 V66.50 M1323.80,1875 V1862.50 M1323.80,54 V66.50 M1391.86,1875 V1862.50 M1391.86,54 V66.50 M1459.92,1875 V1862.50 M1459.92,54 V66.50 M303,1787.96 H328.00 M1528,1787.96 H1503.00 M303,1614.58 H315.50 M1528,1614.58 H1515.50 M303,1441.21 H328.00 M1528,1441.21 H1503.00 M303,1267.83 H315.50 M1528,1267.83 H1515.50 M303,1094.46 H328.00 M1528,1094.46 H1503.00 M303,921.08 H315.50 M1528,921.08 H1515.50 M303,747.70 H328.00 M1528,747.70 H1503.00 M303,574.33 H315.50 M1528,574.33 H1515.50 M303,400.95 H328.00 M1528,400.95 H1503.00 M303,227.58 H315.50 M1528,227.58 H1515.50 M303,54.20 H328.00 M1528,54.20 H1503.00" stroke="#000" stroke-width="9.3" fill="none"/>
<rect x="303" y="54" width="1225" height="1821" fill="none" stroke="#000" stroke-width="9.3" stroke-linejoin="miter"/>
<text transform="translate(275.85,1807.86) scale(1,1.055)" font-size="66.5" font-weight="bold" text-anchor="end">0</text>
<text transform="translate(275.85,1461.11) scale(1,1.055)" font-size="66.5" font-weight="bold" text-anchor="end">200</text>
<text transform="translate(275.85,1114.36) scale(1,1.055)" font-size="66.5" font-weight="bold" text-anchor="end">400</text>
<text transform="translate(275.85,767.60) scale(1,1.055)" font-size="66.5" font-weight="bold" text-anchor="end">600</text>
<text transform="translate(275.85,420.85) scale(1,1.055)" font-size="66.5" font-weight="bold" text-anchor="end">800</text>
<text transform="translate(275.85,74.10) scale(1,1.055)" font-size="66.5" font-weight="bold" text-anchor="end">1000</text>
<text transform="translate(507.08,1955.1) scale(1,1.055)" font-size="66.5" font-weight="bold" text-anchor="middle">45</text>
<text transform="translate(847.38,1955.1) scale(1,1.055)" font-size="66.5" font-weight="bold" text-anchor="middle">50</text>
<text transform="translate(1187.68,1955.1) scale(1,1.055)" font-size="66.5" font-weight="bold" text-anchor="middle">55</text>
<text transform="translate(1527.98,1955.1) scale(1,1.055)" font-size="66.5" font-weight="bold" text-anchor="middle">60</text>
<text transform="translate(591.1,2080.2) scale(1,1.042)" font-size="80" font-weight="bold" style="white-space:pre">Temperature </text>
<text transform="translate(1097.60,2080.2) scale(0.88,1)" font-size="80" font-weight="bold">(</text>
<text transform="translate(1123.75,2080.2) scale(1,1.042)" font-size="80" font-weight="bold">°C</text>
<text transform="translate(1216.53,2080.2) scale(0.87,1)" font-size="80" font-weight="bold">)</text>
<text transform="translate(96.9,0) rotate(-90) scale(1,1.042)" x="-1197.18" y="0" font-size="80" font-weight="bold" style="white-space:pre">G </text>
<text transform="translate(96.9,0) rotate(-90) scale(0.88,1)" x="-1265.05" y="0" font-size="80" font-weight="bold">(</text>
<text transform="translate(99.7,0) rotate(-90) scale(1.048,1.01)" x="-1043.42" y="0" font-size="80" style="font-family:&quot;Noto Serif CJK SC&quot;,serif" font-weight="600">μ</text>
<text transform="translate(96.9,0) rotate(-90) scale(1,1.042)" x="-1040.87" y="0" font-size="80" font-weight="bold">m min<tspan x="-804.39" y="-24.95" font-size="56">-1</tspan></text>
<text transform="translate(96.9,0) rotate(-90) scale(0.88,1)" x="-857.58" y="0" font-size="80" font-weight="bold">)</text>
<circle cx="875.05" cy="139.55" r="24.1" fill="#8000FF" stroke="#000" stroke-width="3.3"/>
<circle cx="875.05" cy="221.05" r="24.1" fill="#000080" stroke="#000" stroke-width="3.3"/>
<circle cx="875.05" cy="302.97" r="24.1" fill="#FF00FF" stroke="#000" stroke-width="3.3"/>
<line x1="801.1" y1="385" x2="949.6" y2="385" stroke="#000" stroke-width="6.2" stroke-linecap="round"/>
<text transform="translate(967.5,162.4) scale(1,1.042)" font-size="66.5" style="white-space:pre">PEO</text>
<text transform="translate(967.5,244.5) scale(1,1.042)" font-size="66.5" style="white-space:pre">80/20  PEO/PHD</text>
<text transform="translate(967.5,326.2) scale(1,1.042)" font-size="66.5" style="white-space:pre">50/50 PEO/PHD</text>
<text transform="translate(967.5,407.9) scale(1,1.042)" font-size="66.5" style="white-space:pre">LH fit</text>
</svg></body></html>
